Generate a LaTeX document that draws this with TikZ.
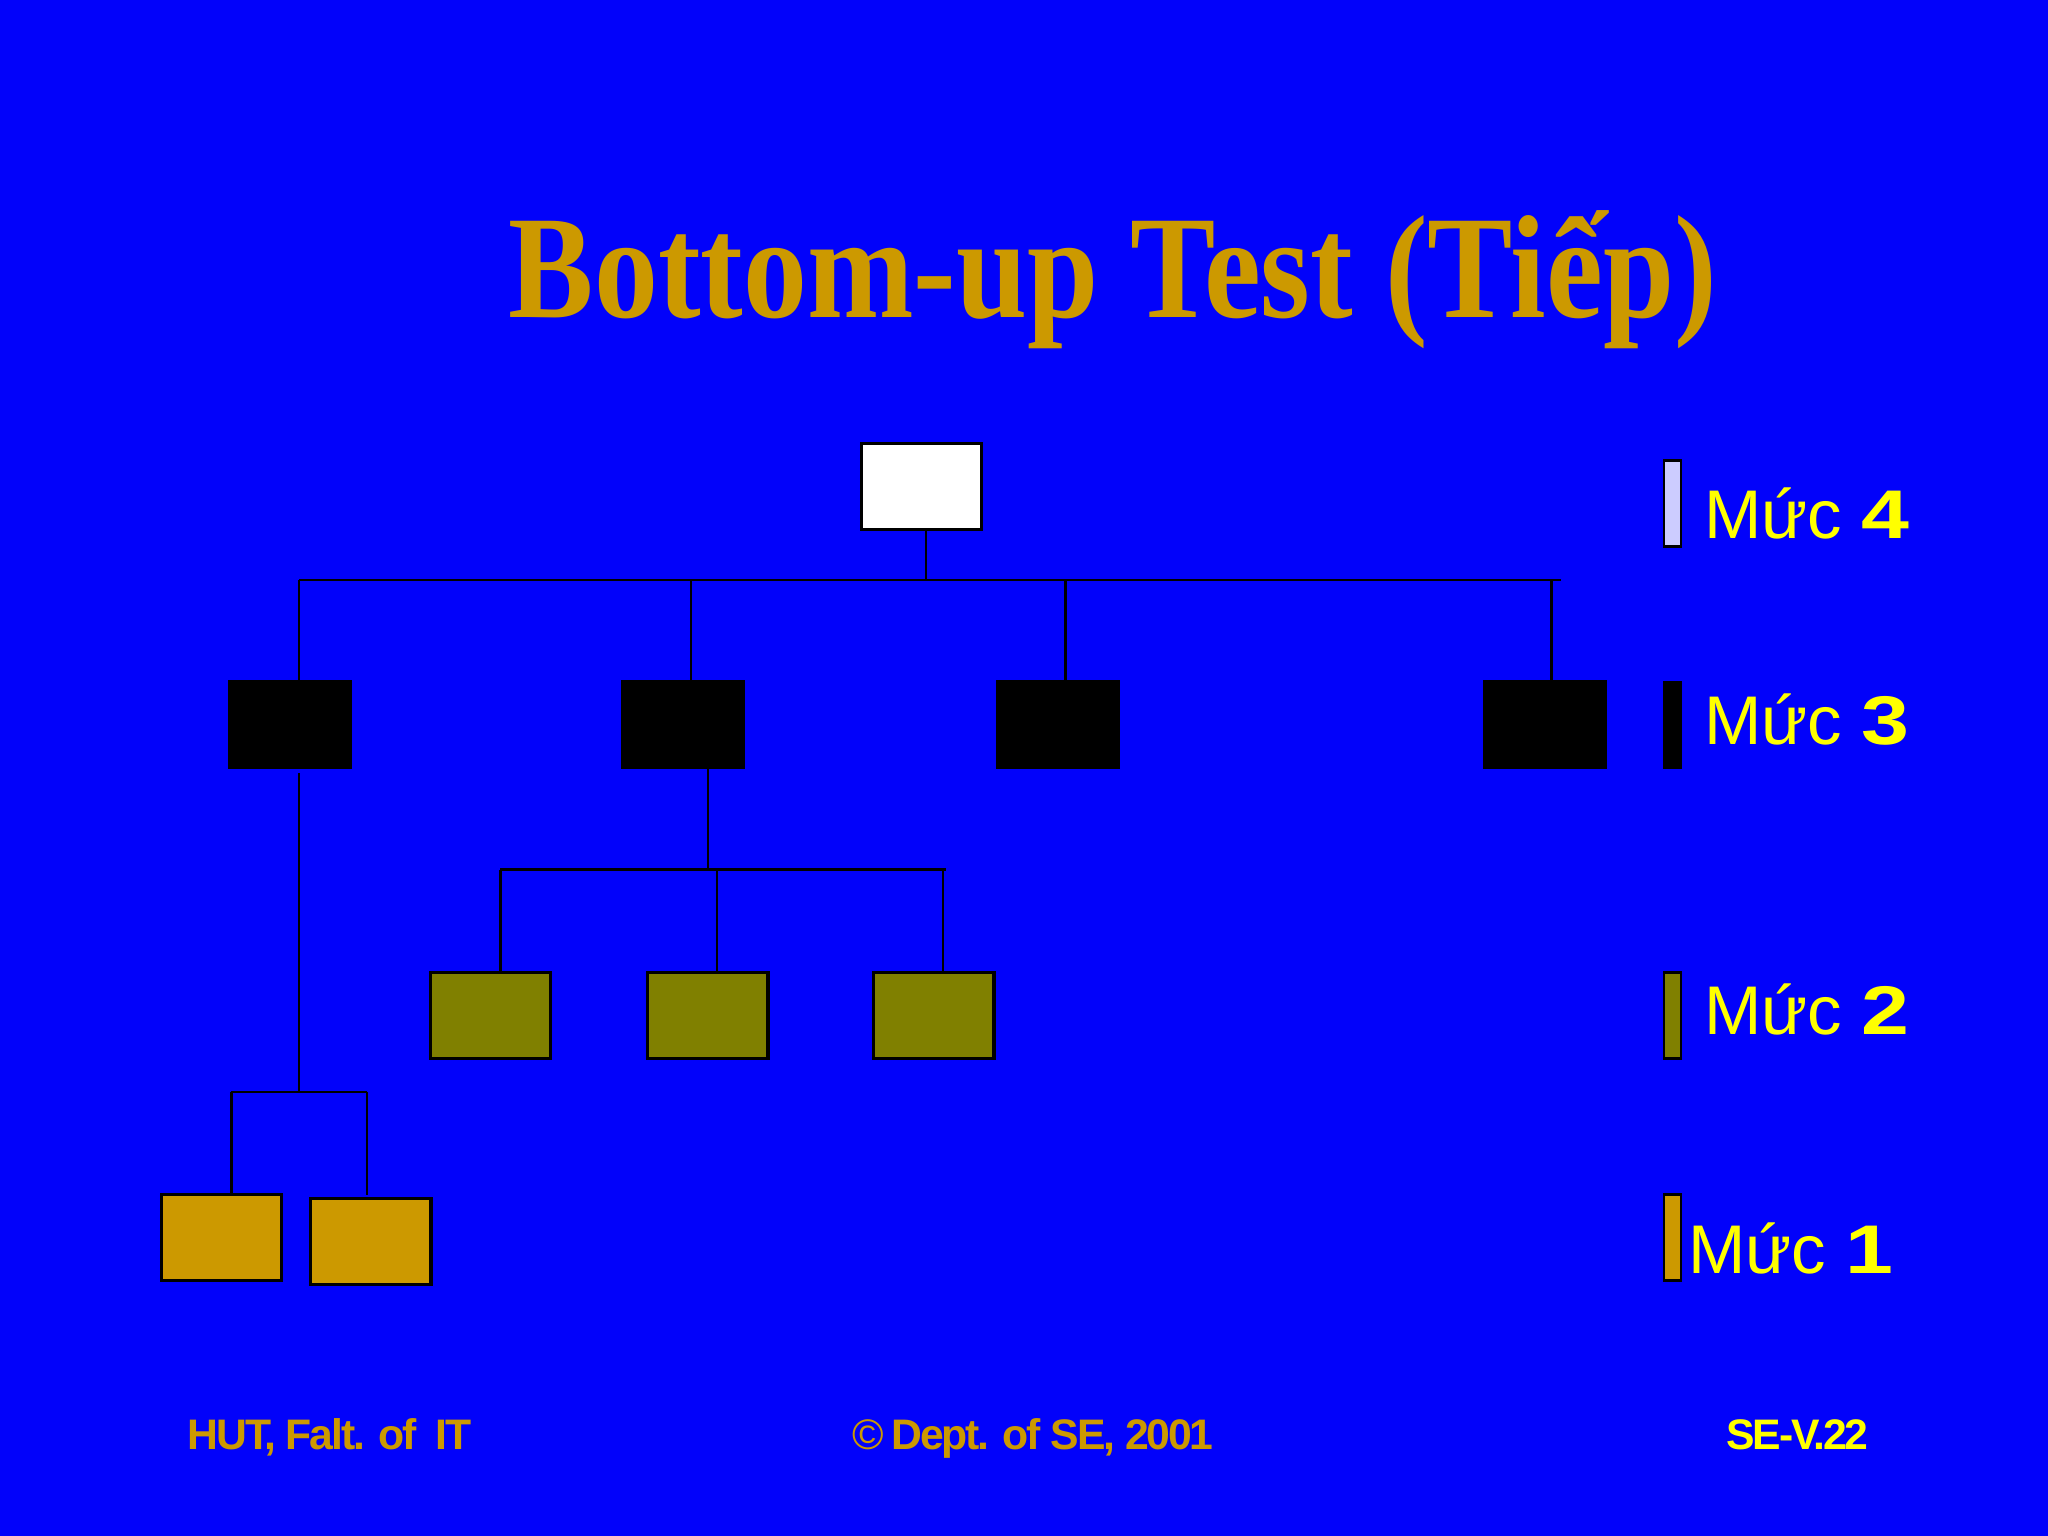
\documentclass[tikz,border=0pt]{standalone}
\usepackage{fontspec}
\setmainfont{Liberation Sans}
\newfontfamily\titlefont{Liberation Serif}
\newfontfamily\footfont[LetterSpace=-5]{Liberation Sans}
\definecolor{bgblue}{RGB}{2,2,250}
\definecolor{gold}{RGB}{204,153,0}
\definecolor{olivebox}{RGB}{128,128,0}
\definecolor{lav}{RGB}{204,204,255}
\definecolor{yel}{RGB}{255,255,0}
\newcommand{\lvdigit}[1]{\scalebox{1.25}[1]{\textbf{#1}}}
\tikzset{
  box/.style={draw=black, line width=0.7pt, minimum width=0.92cm, minimum height=0.655cm, inner sep=0pt},
  lvfour/.style={box, fill=white},
  lvthree/.style={box, fill=black},
  lvtwo/.style={box, fill=olivebox},
  lvone/.style={box, fill=gold},
  bar/.style={draw=black, line width=0.6pt, minimum width=0.13cm, minimum height=0.655cm, inner sep=0pt},
  conn/.style={draw=black, line width=0.6pt},
  legend/.style={anchor=base west, inner sep=0pt, text=yel, font=\fontsize{15}{18}\selectfont},
  foot/.style={anchor=base west, inner sep=0pt, font=\footfont\bfseries\fontsize{9.3}{11}\selectfont}
}
\begin{document}
\begin{tikzpicture}[x=0.01cm, y=-0.01cm]
\fill[bgblue] (0,0) rectangle (1568,1176);
\useasboundingbox (0,0) rectangle (1568,1176);

% title
\node[anchor=base, inner sep=0pt, text=gold] (title) at (852,243)
  {\scalebox{0.87}[1]{\titlefont\bfseries\fontsize{32}{38}\selectfont Bottom-up Test (Tiếp)}};

% level 4
\node[lvfour] (top) at (705.5,372.5) {};
% level 3
\node[lvthree] (a1) at (222,555) {};
\node[lvthree] (a2) at (523,555) {};
\node[lvthree] (a3) at (810,555) {};
\node[lvthree] (a4) at (1183,555) {};
% level 2
\node[lvtwo] (b1) at (375.5,777.5) {};
\node[lvtwo] (b2) at (542,777.5) {};
\node[lvtwo] (b3) at (715,777.5) {};
% level 1
\node[lvone] (c1) at (169.5,947.5) {};
\node[lvone] (c2) at (284,950.5) {};

% bus coordinates
\coordinate (busL) at (229,444);
\coordinate (busR) at (1195,444);
\coordinate (busT) at (709,444);
\coordinate (m1) at (529,444);
\coordinate (m2) at (816,444);
\coordinate (m3) at (1188,444);
\draw[conn] (top.south -| busT) -- (busT);
\draw[conn] (busL) -- (busR);
\draw[conn] (busL) -- (busL |- a1.north);
\draw[conn] (m1) -- (m1 |- a2.north);
\draw[conn] (m2) -- (m2 |- a3.north);
\draw[conn] (m3) -- (m3 |- a4.north);

% level 2 bus
\coordinate (s2) at (542,666);
\coordinate (s2L) at (383,666);
\coordinate (s2M) at (549,666);
\coordinate (s2R) at (724,666);
\coordinate (s2R2) at (722,666);
\draw[conn] (a2.south -| s2) -- (s2);
\draw[conn] (s2L) -- (s2R);
\draw[conn] (s2L) -- (s2L |- b1.north);
\draw[conn] (s2M) -- (s2M |- b2.north);
\draw[conn] (s2R2) -- (s2R2 |- b3.north);

% level 1 bus
\coordinate (s1) at (229,836);
\coordinate (s1L) at (177,836);
\coordinate (s1R) at (281,836);
\coordinate (s1Re) at (281,915);
\draw[conn] ([yshift=-0.03cm]a1.south -| s1) -- (s1);
\draw[conn] (s1L) -- (s1R);
\draw[conn] (s1L) -- (s1L |- c1.north);
\draw[conn] (s1R) -- (s1Re);

% legend
\node[bar, fill=lav] (k4) at (1280.5,385.5) {};
\node[bar, fill=black] (k3) at (1280.5,555) {};
\node[bar, fill=olivebox] (k2) at (1280.5,777.5) {};
\node[bar, fill=gold] (k1) at (1280.5,947.5) {};
\node[legend] (t4) at (1304,412) {Mức \lvdigit{4}};
\node[legend] (t3) at (1304,570) {Mức \lvdigit{3}};
\node[legend] (t2) at (1304,792) {Mức \lvdigit{2}};
\node[legend] (t1) at (1292,975) {Mức \lvdigit{1}};

% footer
\node[foot, text=gold] (f1) at (143,1110) {HUT, Falt. of\ \ IT};
\node[foot, text=gold] (f2) at (652,1110) {\textmd{©} Dept. of SE, 2001};
\node[foot, text=yel] (f3) at (1321,1110) {SE-V.22};
\end{tikzpicture}
\end{document}
